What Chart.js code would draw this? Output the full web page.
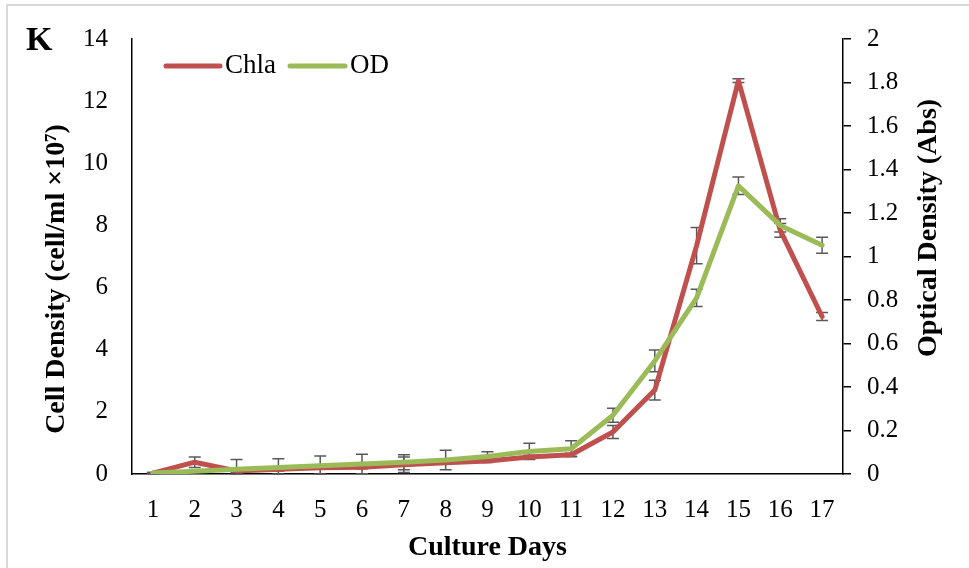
<!DOCTYPE html>
<html>
<head>
<meta charset="utf-8">
<script src="https://cdn.jsdelivr.net/npm/chart.js@4/dist/chart.umd.min.js"></script>
<style>
  html, body { margin: 0; padding: 0; background: #fff; }
  #wrap { position: relative; width: 969px; height: 568px; }
</style>
</head>
<body>
<div id="wrap"><canvas id="c" width="969" height="568"></canvas></div>
<script>
// ---- data ----
const days = ['1','2','3','4','5','6','7','8','9','10','11','12','13','14','15','16','17'];
const chla = [0.03, 0.38, 0.10, 0.15, 0.20, 0.22, 0.30, 0.36, 0.42, 0.55, 0.62, 1.35, 2.70, 7.35, 12.66, 7.84, 5.07];
const chlaErr = [0.02, 0.17, 0.05, 0.05, 0.05, 0.05, 0.25, 0.05, 0.05, 0.05, 0.05, 0.21, 0.32, 0.58, 0.06, 0.22, 0.13];
const od = [0.005, 0.013, 0.022, 0.030, 0.038, 0.046, 0.054, 0.064, 0.080, 0.104, 0.116, 0.27, 0.52, 0.81, 1.325, 1.143, 1.052];
const odErr = [0.002, 0.005, 0.045, 0.04, 0.045, 0.045, 0.035, 0.045, 0.022, 0.037, 0.037, 0.032, 0.05, 0.04, 0.04, 0.03, 0.037];
const leftTicks = [0, 2, 4, 6, 8, 10, 12, 14];
const rightTicks = [0, 0.2, 0.4, 0.6, 0.8, 1, 1.2, 1.4, 1.6, 1.8, 2];
const seriesNames = ['Chla', 'OD'];
const panelLabel = 'K';
const xTitle = 'Culture Days';
const yTitle = 'Cell Density (cell/ml ×10⁷)';
const y2Title = 'Optical Density (Abs)';

const RED = '#C0504D', GREEN = '#9BBB59';
const FONT = "'Liberation Serif', 'Times New Roman', serif";

const errData = [chlaErr, odErr];

const errorBars = {
  id: 'errorBars',
  beforeDatasetsDraw(chart) {
    const ctx = chart.ctx;
    ctx.save();
    ctx.strokeStyle = '#595959';
    ctx.lineWidth = 1.5;
    chart.data.datasets.forEach((ds, i) => {
      const meta = chart.getDatasetMeta(i);
      const ys = chart.scales[meta.yAxisID];
      meta.data.forEach((pt, j) => {
        const v = ds.data[j], e = errData[i][j];
        const top = ys.getPixelForValue(v + e);
        const bot = ys.getPixelForValue(Math.max(0, v - e));
        const x = pt.x;
        ctx.beginPath();
        ctx.moveTo(x, top); ctx.lineTo(x, bot);
        ctx.moveTo(x - 6, top); ctx.lineTo(x + 6, top);
        ctx.moveTo(x - 6, bot); ctx.lineTo(x + 6, bot);
        ctx.stroke();
      });
    });
    ctx.restore();
  }
};

const decor = {
  id: 'decor',
  beforeDraw(chart) {
    const ctx = chart.ctx;
    ctx.save();
    ctx.fillStyle = '#fff';
    ctx.fillRect(0, 0, chart.width, chart.height);
    ctx.strokeStyle = '#d9d9d9';
    ctx.lineWidth = 2;
    ctx.beginPath();
    ctx.moveTo(7, 568); ctx.lineTo(7, 5); ctx.lineTo(969, 5);
    ctx.stroke();
    ctx.restore();
  },
  afterDraw(chart) {
    const ctx = chart.ctx;
    ctx.save();
    ctx.fillStyle = '#000';
    // panel label
    ctx.font = 'bold 34px ' + FONT;
    ctx.textAlign = 'left';
    ctx.textBaseline = 'alphabetic';
    ctx.fillText(panelLabel, 26, 50);
    // vertical titles
    ctx.font = 'bold 28px ' + FONT;
    ctx.textAlign = 'center';
    ctx.textBaseline = 'middle';
    ctx.save();
    ctx.translate(57, 279);
    ctx.rotate(-Math.PI / 2);
    ctx.fillText(yTitle, 0, 0);
    ctx.restore();
    ctx.save();
    ctx.translate(929, 228);
    ctx.rotate(-Math.PI / 2);
    ctx.fillText(y2Title, 0, 0);
    ctx.restore();
    // legend
    const items = [
      {x0: 166, x1: 220, tx: 225, color: RED, text: seriesNames[0]},
      {x0: 290, x1: 345, tx: 350, color: GREEN, text: seriesNames[1]}
    ];
    ctx.font = '27px ' + FONT;
    ctx.textAlign = 'left';
    items.forEach(it => {
      ctx.strokeStyle = it.color;
      ctx.lineWidth = 5;
      ctx.lineCap = 'round';
      ctx.beginPath();
      ctx.moveTo(it.x0, 66); ctx.lineTo(it.x1, 66);
      ctx.stroke();
      ctx.fillStyle = '#000';
      ctx.fillText(it.text, it.tx, 66);
    });
    ctx.restore();
  }
};

new Chart(document.getElementById('c'), {
  type: 'line',
  data: {
    labels: days,
    datasets: [
      { label: seriesNames[0], data: chla, yAxisID: 'y', borderColor: RED, backgroundColor: RED,
        borderWidth: 5, pointRadius: 0, tension: 0, borderCapStyle: 'round', borderJoinStyle: 'round', order: 2 },
      { label: seriesNames[1], data: od, yAxisID: 'y2', borderColor: GREEN, backgroundColor: GREEN,
        borderWidth: 5, pointRadius: 0, tension: 0, borderCapStyle: 'round', borderJoinStyle: 'round', order: 1 }
    ]
  },
  options: {
    responsive: false,
    animation: false,
    layout: { padding: { top: 35, left: 0, right: 0, bottom: 0 } },
    plugins: { legend: { display: false }, tooltip: { enabled: false } },
    scales: {
      x: {
        type: 'category',
        offset: true,
        grid: { display: false, drawTicks: false },
        border: { display: true, color: '#000', width: 1.5 },
        ticks: { color: '#000', font: { family: FONT, size: 25 }, padding: 21, maxRotation: 0, autoSkip: false },
        title: { display: true, text: xTitle, color: '#000', font: { family: FONT, size: 28, weight: 'bold' }, padding: { top: 0, bottom: 3 } },
        afterFit(s) { s.height = 94; }
      },
      y: {
        position: 'left',
        min: 0, max: 14,
        grid: { display: false, drawTicks: false },
        border: { display: true, color: '#000', width: 1.5 },
        afterBuildTicks(s) { s.ticks = leftTicks.map(v => ({ value: v })); },
        ticks: { color: '#000', font: { family: FONT, size: 25 }, padding: 24 },
        afterFit(s) { s.width = 132; }
      },
      y2: {
        position: 'right',
        min: 0, max: 2,
        grid: { drawOnChartArea: false, drawTicks: true, tickLength: 8, color: '#000', lineWidth: 1.5 },
        border: { display: true, color: '#000', width: 1.5 },
        afterBuildTicks(s) { s.ticks = rightTicks.map(v => ({ value: v })); },
        ticks: { color: '#000', font: { family: FONT, size: 25 }, padding: 16, callback: v => String(v) },
        afterFit(s) { s.width = 126; }
      }
    }
  },
  plugins: [decor, errorBars]
});
</script>
</body>
</html>
